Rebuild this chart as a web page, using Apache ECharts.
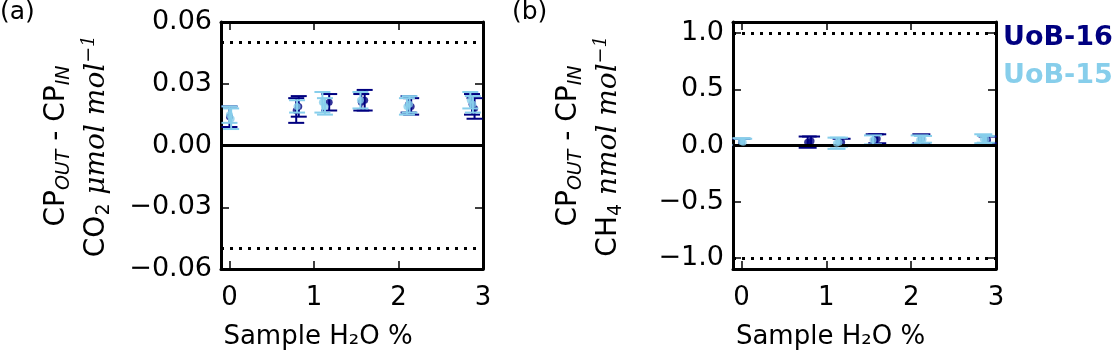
<!DOCTYPE html>
<html>
<head>
<meta charset="utf-8">
<script src="https://cdn.jsdelivr.net/npm/echarts@6/dist/echarts.min.js"></script>
<style>
  html, body { margin: 0; padding: 0; background: #fff; }
  #chart { width: 1114px; height: 355px; }
</style>
</head>
<body>
<div id="chart"></div>
<script>
// x positions: sample H2O %
const xTicks = [0, 1, 2, 3]
const coTicks = [-0.06, -0.03, 0, 0.03, 0.06]
const chTicks = [-1.0, -0.5, 0, 0.5, 1.0]

// (a) CO2, UoB-16
const coX16 = [0.00, 0.79, 0.82, 1.18, 1.56, 1.60, 2.12, 2.15, 2.87, 2.90]
const coY16 = [0.014, 0.017, 0.019, 0.021, 0.021, 0.022, 0.020, 0.019, 0.020, 0.018]
const coE16 = [0.005, 0.006, 0.005, 0.004, 0.004, 0.005, 0.004, 0.004, 0.005, 0.005]
// (a) CO2, UoB-15
const coX15 = [0.00, 0.02, 0.80, 1.10, 1.13, 1.55, 2.10, 2.13, 2.85, 2.88]
const coY15 = [0.015, 0.013, 0.019, 0.021, 0.019, 0.022, 0.019, 0.020, 0.022, 0.020]
const coE15 = [0.004, 0.005, 0.003, 0.005, 0.004, 0.004, 0.004, 0.004, 0.004, 0.004]

// (b) CH4, UoB-16
const chX16 = [0.00, 0.78, 0.82, 1.18, 1.57, 1.60, 2.12, 2.90]
const chY16 = [0.03, 0.03, 0.04, 0.03, 0.05, 0.06, 0.06, 0.05]
const chE16 = [0.03, 0.05, 0.04, 0.03, 0.05, 0.04, 0.04, 0.03]
// (b) CH4, UoB-15
const chX15 = [0.00, 0.02, 1.12, 1.15, 1.55, 2.10, 2.14, 2.85, 2.88]
const chY15 = [0.035, 0.03, 0.02, 0.03, 0.05, 0.05, 0.055, 0.06, 0.055]
const chE15 = [0.03, 0.03, 0.05, 0.04, 0.04, 0.04, 0.03, 0.04, 0.03]

const limitA = 0.05
const limitB = 1.0

const NAVY = '#000080'
const SKY = '#87ceeb'
const FONT = 'DejaVu Sans'

const chart = echarts.init(document.getElementById('chart'))

const rows = (xs, ys, es) => xs.map((x, i) => [x, ys[i], es[i]])
const minus = v => String(v).replace('-', '\u2212')

function errorBars(color, capHalf) {
    return function (params, api) {
        const x = api.value(0), y = api.value(1), e = api.value(2)
        const hi = api.coord([x, y + e])
        const lo = api.coord([x, y - e])
        const st = { stroke: color, lineWidth: 2 }
        return {
            type: 'group',
            children: [
                { type: 'line', shape: { x1: hi[0], y1: hi[1], x2: lo[0], y2: lo[1] }, style: st },
                { type: 'line', shape: { x1: hi[0] - capHalf, y1: hi[1], x2: hi[0] + capHalf, y2: hi[1] }, style: st },
                { type: 'line', shape: { x1: lo[0] - capHalf, y1: lo[1], x2: lo[0] + capHalf, y2: lo[1] }, style: st },
            ]
        }
    }
}

const axisLine = { show: true, onZero: false, lineStyle: { color: '#000', width: 3 } }
const tick = vals => ({ show: true, inside: true, length: 8, lineStyle: { color: '#000', width: 1.5 }, customValues: vals })

function xAxes(gridIndex) {
    return [
        {
            type: 'value', gridIndex, min: -0.1, max: 3, position: 'bottom',
            axisLine, axisTick: tick(xTicks), splitLine: { show: false },
            axisLabel: { customValues: xTicks, fontSize: 26, fontFamily: FONT, color: '#000', margin: 16 },
            name: 'Sample H\u2082O %', nameLocation: 'middle', nameGap: 55,
            nameTextStyle: { fontSize: 26, fontFamily: FONT, color: '#000', padding: [0, 68, 0, 0] }
        },
        {
            type: 'value', gridIndex, min: -0.1, max: 3, position: 'top',
            axisLine, axisTick: tick(xTicks), splitLine: { show: false }, axisLabel: { show: false }
        }
    ]
}

function yAxes(gridIndex, lo, hi, vals, digits) {
    return [
        {
            type: 'value', gridIndex, min: lo, max: hi, position: 'left',
            axisLine, axisTick: tick(vals), splitLine: { show: false },
            axisLabel: {
                customValues: vals, fontSize: 27, fontFamily: FONT, color: '#000', margin: 9,
                formatter: v => minus(v.toFixed(digits))
            }
        },
        {
            type: 'value', gridIndex, min: lo, max: hi, position: 'right',
            axisLine, axisTick: tick(vals), splitLine: { show: false }, axisLabel: { show: false }
        }
    ]
}

function limitLines(lim) {
    const dotted = { color: '#000', width: 3, type: [3, 6] }
    return {
        silent: true, symbol: 'none', label: { show: false },
        data: [
            { yAxis: lim, lineStyle: dotted },
            { yAxis: -lim, lineStyle: dotted },
            { yAxis: 0, lineStyle: { color: '#000', width: 3, type: 'solid' } }
        ]
    }
}

const richTitle = {
    n: { fontSize: 28, fontFamily: FONT, color: '#000', lineHeight: 34 },
    s: { fontSize: 19, fontFamily: FONT, fontStyle: 'italic', color: '#000', lineHeight: 19, verticalAlign: 'bottom' },
    s2: { fontSize: 19, fontFamily: FONT, color: '#000', lineHeight: 19, verticalAlign: 'bottom' },
    i: { fontSize: 28, fontFamily: 'DejaVu Serif', fontStyle: 'italic', color: '#000', lineHeight: 34 },
    sup: { fontSize: 19, fontFamily: 'DejaVu Serif', fontStyle: 'italic', color: '#000', lineHeight: 19, verticalAlign: 'top' }
}

function yTitle(x, text) {
    return {
        type: 'text', x, y: 146, rotation: Math.PI / 2,
        style: { text, rich: richTitle, align: 'center', verticalAlign: 'middle' }
    }
}

function panelSeries(xi, yi, d16, d15, lim, cap) {
    return [
        {
            name: 'UoB-16', type: 'custom', xAxisIndex: xi, yAxisIndex: yi, data: d16,
            renderItem: errorBars(NAVY, cap), encode: { x: 0, y: 1 }, z: 2,
            markLine: limitLines(lim)
        },
        {
            name: 'UoB-16', type: 'scatter', xAxisIndex: xi, yAxisIndex: yi, data: d16,
            symbol: 'circle', symbolSize: 7, itemStyle: { color: NAVY }, z: 3
        },
        {
            name: 'UoB-15', type: 'custom', xAxisIndex: xi, yAxisIndex: yi, data: d15,
            renderItem: errorBars(SKY, cap), encode: { x: 0, y: 1 }, z: 4
        },
        {
            name: 'UoB-15', type: 'scatter', xAxisIndex: xi, yAxisIndex: yi, data: d15,
            symbol: 'circle', symbolSize: 7, itemStyle: { color: SKY }, z: 5
        }
    ]
}

const option = {
    backgroundColor: '#fff',
    animation: false,
    grid: [
        { left: 221, top: 22, width: 262, height: 248 },
        { left: 733, top: 22, width: 263, height: 249 }
    ],
    xAxis: [...xAxes(0), ...xAxes(1)],
    yAxis: [...yAxes(0, -0.06, 0.06, coTicks, 2), ...yAxes(1, -1.1, 1.1, chTicks, 1)],
    legend: {
        left: 998, top: 24, orient: 'vertical', itemGap: 11, padding: 0,
        icon: 'none', itemWidth: 0, itemHeight: 0, selectedMode: false,
        data: [
            { name: 'UoB-16', textStyle: { color: NAVY } },
            { name: 'UoB-15', textStyle: { color: SKY } }
        ],
        textStyle: { fontSize: 27, fontWeight: 'bold', fontFamily: FONT, padding: 0 }
    },
    graphic: [
        { type: 'text', left: 0, top: 0, style: { text: '(a)', fontSize: 25, fontFamily: FONT, fill: '#000' } },
        { type: 'text', left: 512, top: 0, style: { text: '(b)', fontSize: 25, fontFamily: FONT, fill: '#000' } },
        yTitle(57, '{n|CP}{s|OUT}{n| - CP}{s|IN}'),
        yTitle(97, '{n|CO}{s2|2}{i| \u03bcmol mol}{sup|\u22121}'),
        yTitle(569, '{n|CP}{s|OUT}{n| - CP}{s|IN}'),
        yTitle(609, '{n|CH}{s2|4}{i| nmol mol}{sup|\u22121}')
    ],
    series: [
        ...panelSeries(0, 0, rows(coX16, coY16, coE16), rows(coX15, coY15, coE15), limitA, 8),
        ...panelSeries(2, 2, rows(chX16, chY16, chE16), rows(chX15, chY15, chE15), limitB, 9)
    ]
}

chart.setOption(option)
</script>
</body>
</html>
